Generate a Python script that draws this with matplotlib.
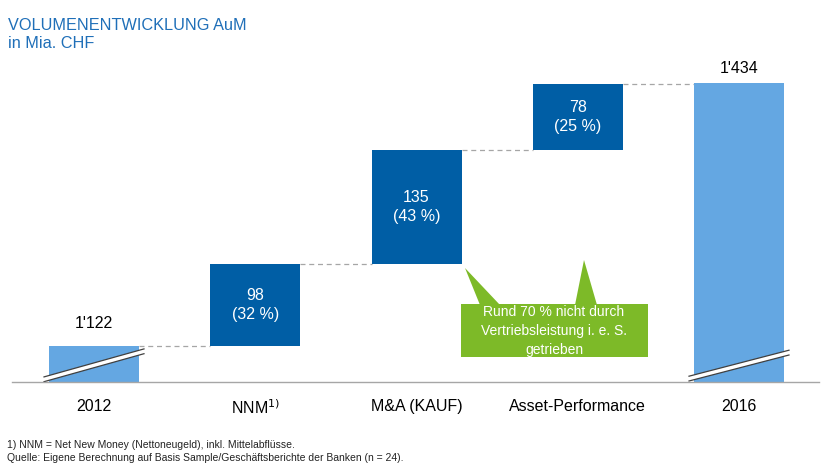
import numpy as np
import matplotlib.pyplot as plt
from matplotlib.patches import Polygon, Rectangle

plt.rcParams['font.family'] = ['Liberation Sans', 'DejaVu Sans']

# Daten
categories = ['2012', 'NNM$^{1)}$', 'M&A (KAUF)', 'Asset-Performance', '2016']
start_value = 1122
steps = [98, 135, 78]
step_shares = ['32 %', '43 %', '25 %']
end_value = 1434
value_labels = ["1'122", "1'434"]

dark_blue = '#005EA5'
light_blue = '#64A7E2'
title_blue = '#1F6FB8'
green = '#7DBA28'

W, H = 825, 472
fig = plt.figure(figsize=(W / 100, H / 100), dpi=100)

# Achse: unten bei Pixel 382, oben bei Pixel 60 (gebrochene Achse)
ax = fig.add_axes([12 / W, (H - 382) / H, (819 - 12) / W, (382 - 60) / H])
y0 = 1079.5
px_per_unit = 0.843
ax.set_ylim(y0, y0 + (382 - 60) / px_per_unit)
x = np.arange(len(categories))
spacing = 161.25
ax.set_xlim(-(94 - 12) / spacing, (819 - 94) / spacing)
width = 90 / spacing

# Balken
ax.bar(x[0], start_value - y0, bottom=y0, width=width, color=light_blue, zorder=2)
ax.bar(x[-1], end_value - y0, bottom=y0, width=width, color=light_blue, zorder=2)
bottoms = start_value + np.concatenate([[0], np.cumsum(steps)[:-1]])
ax.bar(x[1:4], steps, bottom=bottoms, width=width, color=dark_blue, zorder=2)

# Verbindungslinien
levels = start_value + np.concatenate([[0], np.cumsum(steps)])
for i, lev in enumerate(levels):
    ax.plot([x[i] + width / 2, x[i + 1] - width / 2], [lev, lev],
            color='#A6A6A6', lw=0.9, ls=(0, (4, 3)), zorder=1)

# Beschriftungen
for i, (v, s) in enumerate(zip(steps, step_shares)):
    ax.text(x[i + 1], bottoms[i] + v / 2, f'{v}\n({s})', ha='center', va='center',
            color='white', fontsize=11.5, linespacing=1.35, zorder=3)
ax.text(x[0], start_value + 18, value_labels[0], ha='center', va='bottom', fontsize=11.5)
ax.text(x[-1], end_value + 9, value_labels[1], ha='center', va='bottom', fontsize=11.5)

# Achsenbruch-Markierungen
def break_mark(xc, yb, rise):
    dx = 0.62
    slope = rise / 100 * spacing / px_per_unit
    gap = 4.8 / px_per_unit
    xl, xr = xc - dx / 2, xc + dx / 2
    y_l, y_r = yb, yb + slope * dx
    band = Polygon([[xl, y_l], [xr, y_r], [xr, y_r + gap], [xl, y_l + gap]],
                   closed=True, facecolor='white', edgecolor='none', zorder=4)
    ax.add_patch(band)
    ax.plot([xl, xr], [y_l, y_r], color='#404040', lw=0.9, zorder=5)
    ax.plot([xl, xr], [y_l + gap, y_r + gap], color='#404040', lw=0.9, zorder=5)

break_mark(x[0], y0 + 0.3 / px_per_unit, 28)
break_mark(x[-1], y0 + 1.0 / px_per_unit, 26)

# Achsen
for sp in ['top', 'right', 'left']:
    ax.spines[sp].set_visible(False)
ax.spines['bottom'].set_color('#A6A6A6')
ax.spines['bottom'].set_linewidth(1.0)
ax.spines['bottom'].set_zorder(6)
ax.set_yticks([])
ax.set_xticks(x)
ax.set_xticklabels(categories, fontsize=11.5)
ax.tick_params(axis='x', length=0, pad=12)

# Hinweisbox (gruen) in Pixelkoordinaten der Figur
def fx(px):
    return px / W

def fy(py):
    return (H - py) / H

box = Rectangle((fx(461), fy(357)), fx(648) - fx(461), fy(304) - fy(357),
                transform=fig.transFigure, facecolor=green, edgecolor='none')
fig.patches.append(box)
for tip, base in [((465, 268), (480, 500)), ((584, 260), (575, 597))]:
    tri = Polygon([[fx(tip[0]), fy(tip[1])], [fx(base[0]), fy(305)], [fx(base[1]), fy(305)]],
                  closed=True, transform=fig.transFigure, facecolor=green, edgecolor='none')
    fig.patches.append(tri)
fig.text(fx(554), fy(331), 'Rund 70 % nicht durch\nVertriebsleistung i. e. S.\ngetrieben',
         ha='center', va='center', color='white', fontsize=10, linespacing=1.45)

# Titel
fig.text(fx(8), fy(25), 'VOLUMENENTWICKLUNG AuM', color=title_blue, fontsize=11.7,
         ha='left', va='center')
fig.text(fx(8), fy(43), 'in Mia. CHF', color=title_blue, fontsize=11.7,
         ha='left', va='center')

# Fussnoten
fig.text(fx(7), fy(445), '1) NNM = Net New Money (Nettoneugeld), inkl. Mittelabflüsse.',
         fontsize=7.5, ha='left', va='center', color='#222222')
fig.text(fx(7), fy(458), 'Quelle: Eigene Berechnung auf Basis Sample/Geschäftsberichte der Banken (n = 24).',
         fontsize=7.5, ha='left', va='center', color='#222222')

fig.savefig('out.png', dpi=100)
